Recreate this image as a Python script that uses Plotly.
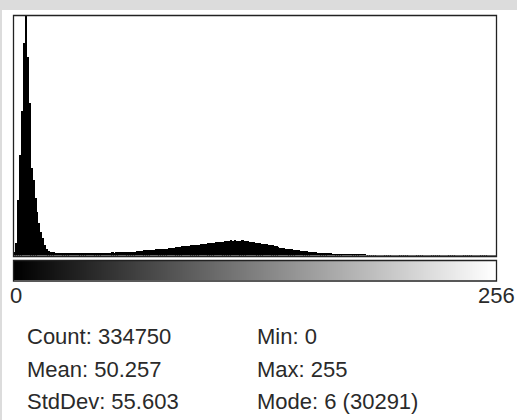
import plotly.graph_objects as go

# ---------------- data ----------------
bins = list(range(256))
counts = [
    500, 1640, 7060, 12740, 18300, 26880, 30291, 25110, 19300, 11100,
    9590, 7320, 5550, 4160, 3030, 2270, 1390, 760, 570, 500,
    440,
    400, 370, 350, 330, 320, 330, 300, 320, 330, 310,
    320, 330, 300, 320, 290, 280, 300, 310, 320, 300,
    310, 330, 340, 320, 350, 360, 340, 370, 360, 380,
    370, 390, 380, 400, 390, 410, 420, 410, 430, 450,
    470, 460, 480, 500, 520, 560, 590, 610, 640, 660,
    690, 710, 700, 730, 790, 810, 800, 840, 860, 880,
    870, 900, 960, 1000, 990, 1020, 1050, 1080, 1140, 1160,
    1190, 1220, 1250, 1270, 1300, 1320, 1340, 1380, 1420, 1450,
    1480, 1500, 1560, 1590, 1610, 1640, 1650, 1690, 1720, 1700,
    1760, 1780, 1800, 1850, 1900, 1880, 1910, 1850, 1830, 1880,
    1920, 1870, 1810, 1790, 1720, 1700, 1650, 1630, 1600, 1560,
    1500, 1480, 1450, 1420, 1370, 1330, 1280, 1230, 1150, 1080,
    1010, 960, 910, 880, 850, 800, 760, 720, 700, 680,
    640, 600, 580, 560, 530, 500, 480, 450, 420, 400,
    380, 360, 340, 320, 300, 290, 270, 260, 240, 230,
    210, 200, 190, 175, 160, 150, 140, 130, 120, 110,
    100, 90, 85, 80, 72, 65, 60, 55, 50, 46,
    44, 42, 40, 38, 36, 35, 33, 31, 30, 28,
    27, 26, 25, 24, 23, 22, 21, 20, 19, 19,
    18, 17, 16, 16, 15, 15, 14, 14, 13, 13,
    12, 12, 11, 11, 11, 10, 10, 10, 9, 9,
    9, 8, 8, 8, 8, 7, 7, 7, 7, 6,
    6, 6, 6, 6, 5, 5, 5, 5, 5, 5,
    4, 4, 4, 5, 12,
]
axis_labels = ["0", "256"]
stats_left = ["Count: 334750", "Mean: 50.257", "StdDev: 55.603"]
stats_right = ["Min: 0", "Max: 255", "Mode: 6 (30291)"]

# ---------------- layout helpers (pixel -> paper) ----------------
W, H = 517, 420
ML, MR, MT, MB = 14, 21, 16, 138
PW, PH = W - ML - MR, H - MT - MB


def px(x):
    return (x - ML) / PW


def py(y):
    return (H - MB - y) / PH


fig = go.Figure()
fig.add_trace(go.Bar(
    x=bins, y=counts, marker=dict(color="black", line=dict(width=0)),
    xaxis="x", yaxis="y", hoverinfo="skip",
))
fig.add_trace(go.Heatmap(
    x=bins, y=[0], z=[bins], colorscale=[[0, "black"], [1, "white"]],
    showscale=False, xaxis="x", yaxis="y2", hoverinfo="skip",
))

shapes = [
    # grey window strips
    dict(type="rect", xref="paper", yref="paper", x0=px(0), x1=px(W), y0=py(0), y1=py(10),
         fillcolor="#dcdcdc", line=dict(width=0), layer="above"),
    dict(type="rect", xref="paper", yref="paper", x0=px(0), x1=px(2), y0=py(0), y1=py(H),
         fillcolor="#dcdcdc", line=dict(width=0), layer="above"),
    # histogram frame
    dict(type="rect", xref="paper", yref="paper", x0=px(13.5), x1=px(496.5), y0=py(256.5), y1=py(15.5),
         line=dict(color="#222", width=1.3), fillcolor="rgba(0,0,0,0)", layer="above"),
    # gradient frame
    dict(type="rect", xref="paper", yref="paper", x0=px(13.5), x1=px(496.5), y0=py(281), y1=py(260.5),
         line=dict(color="#222", width=1.3), fillcolor="rgba(0,0,0,0)", layer="above"),
]

font = dict(family="Liberation Sans, Arial, sans-serif", size=22, color="#2a2a2a")
ann = [
    dict(x=px(16), y=py(295), text=axis_labels[0], xanchor="center"),
    dict(x=px(496), y=py(295), text=axis_labels[1], xanchor="center"),
]
rows_y = [336, 369, 401]
for t, yy in zip(stats_left, rows_y):
    ann.append(dict(x=px(25), y=py(yy), text=t, xanchor="left"))
for t, yy in zip(stats_right, rows_y):
    ann.append(dict(x=px(255), y=py(yy), text=t, xanchor="left"))
for a in ann:
    a.update(xref="paper", yref="paper", yanchor="middle", showarrow=False, font=font)

fig.update_layout(
    width=W, height=H,
    margin=dict(l=ML, r=MR, t=MT, b=MB, pad=0),
    paper_bgcolor="white", plot_bgcolor="white",
    showlegend=False, bargap=0,
    xaxis=dict(range=[-0.5, 255.5], visible=False, domain=[0, 1]),
    yaxis=dict(range=[0, 30291], visible=False, domain=[py(255.5), 1]),
    yaxis2=dict(range=[-0.5, 0.5], visible=False, domain=[py(280), py(261)]),
    shapes=shapes, annotations=ann,
)
fig.write_html(
    "out.html",
    config={"displayModeBar": False},
    post_script="document.body.style.margin='0';document.body.style.padding='0';",
)
